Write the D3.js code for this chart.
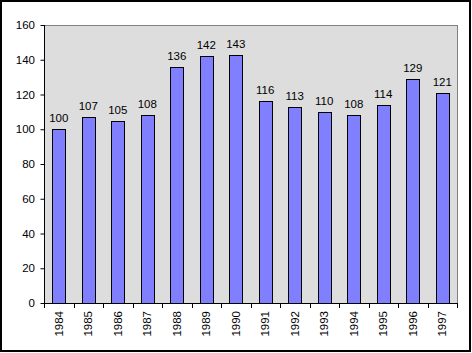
<!DOCTYPE html>
<html>
<head>
<meta charset="utf-8">
<script src="https://cdn.jsdelivr.net/npm/d3@7"></script>
<style>
  body { margin: 0; background: #fff; }
  text { font-family: Arial, "Liberation Sans", sans-serif; font-size: 11.5px; fill: #000; }
</style>
</head>
<body>
<div id="chart"></div>
<script>
// data
var years = ["1984", "1985", "1986", "1987", "1988", "1989", "1990",
             "1991", "1992", "1993", "1994", "1995", "1996", "1997"];
var values = [100, 107, 105, 108, 136, 142, 143, 116, 113, 110, 108, 114, 129, 121];
var yTicks = [0, 20, 40, 60, 80, 100, 120, 140, 160];

var width = 472, height = 353;
var margin = {top: 25, right: 15, bottom: 50, left: 44};
var w = 457 - margin.left, h = 303 - margin.top;

var svg = d3.select("#chart")
  .append("svg")
    .attr("width", width)
    .attr("height", height);

// outer frame
svg.append("rect")
  .attr("x", 1).attr("y", 1)
  .attr("width", 469).attr("height", 350)
  .attr("fill", "#fff")
  .attr("stroke", "#000")
  .attr("stroke-width", 2);

var g = svg.append("g")
  .attr("transform", "translate(" + margin.left + "," + margin.top + ")");

var x = d3.scaleBand()
  .domain(years)
  .range([0, w])
  .paddingInner(0.56)
  .paddingOuter(0.28);

var y = d3.scaleLinear()
  .domain([0, 160])
  .range([h, 0]);

// plot area
g.append("rect")
  .attr("x", 0).attr("y", 0)
  .attr("width", w).attr("height", h)
  .attr("fill", "#dddddd")
  .attr("stroke", "#808080")
  .attr("stroke-width", 1)
  .attr("shape-rendering", "crispEdges");

// bars
g.selectAll(".bar")
  .data(values)
  .enter()
  .append("rect")
    .attr("class", "bar")
    .attr("x", function(d, i) { return Math.round(x(years[i])) + 0.5; })
    .attr("y", function(d) { return Math.round(y(d)) + 0.5; })
    .attr("width", Math.round(x.bandwidth()))
    .attr("height", function(d) { return Math.round(h - y(d)); })
    .attr("fill", "#8080ff")
    .attr("stroke", "#000")
    .attr("stroke-width", 1);

// value labels
g.selectAll(".lbl")
  .data(values)
  .enter()
  .append("text")
    .attr("class", "lbl")
    .attr("text-anchor", "middle")
    .attr("x", function(d, i) { return x(years[i]) + x.bandwidth() / 2; })
    .attr("y", function(d) { return y(d) - 7; })
    .text(function(d) { return d; });

// Y axis
var yAxis = g.append("g")
  .call(d3.axisLeft(y).tickValues(yTicks).tickSize(4).tickPadding(5))
yAxis.select(".domain").attr("stroke", "#000").attr("d", "M0.5,0V" + h);
yAxis.selectAll(".tick line").attr("transform", "translate(0.5,0)");
yAxis.selectAll("text")
  .style("font-family", "Arial, 'Liberation Sans', sans-serif")
  .style("font-size", "11.5px");

// X axis: ticks between categories
var xAxis = g.append("g")
  .attr("transform", "translate(0," + h + ")");
xAxis.append("line")
  .attr("x1", 0).attr("x2", w)
  .attr("y1", 0.5).attr("y2", 0.5)
  .attr("stroke", "#000");
xAxis.selectAll(".xt")
  .data(d3.range(years.length + 1))
  .enter()
  .append("line")
    .attr("x1", function(i) { return Math.round(i * w / years.length) + 0.5; })
    .attr("x2", function(i) { return Math.round(i * w / years.length) + 0.5; })
    .attr("y1", 0).attr("y2", 5)
    .attr("stroke", "#000");
xAxis.selectAll(".yr")
  .data(years)
  .enter()
  .append("text")
    .attr("class", "yr")
    .attr("text-anchor", "end")
    .attr("transform", function(d) {
      return "translate(" + (x(d) + x.bandwidth() / 2 + 4) + ",8) rotate(-90)";
    })
    .text(function(d) { return d; });
</script>
</body>
</html>
